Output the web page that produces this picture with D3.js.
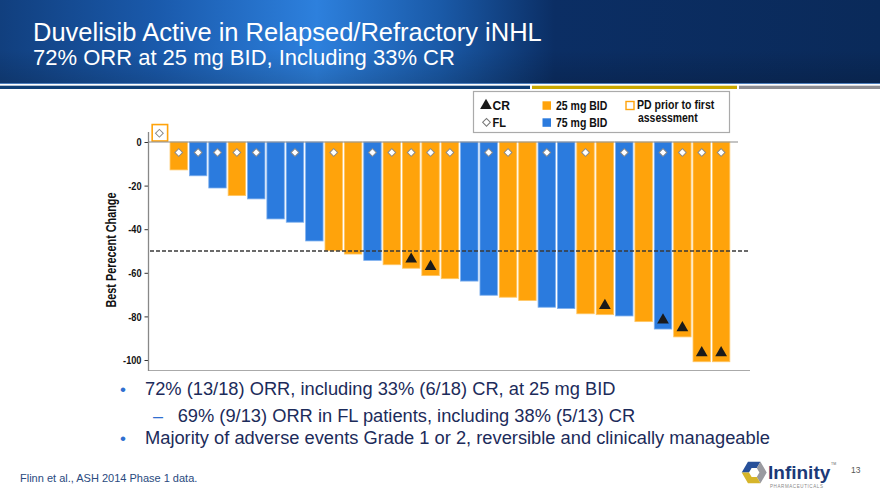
<!DOCTYPE html>
<html><head><meta charset="utf-8">
<script src="https://cdn.jsdelivr.net/npm/d3@7"></script>
<style>html,body{margin:0;padding:0;background:#fff;} svg{display:block;}</style>
</head><body><svg id="c" width="880" height="491"></svg>
<script>
// ---------- DATA ----------
const patients = [1,2,3,4,5,6,7,8,9,10,11,12,13,14,15,16,17,18,19,20,21,22,23,24,25,26,27,28,29,30];
const bestChange = [8, -12.8, -15.5, -21.1, -24.6, -26.1, -35.3, -36.8, -45.4, -49.9,
  -51.4, -54.3, -56.3, -57.9, -61.3, -62.7, -63.8, -70.3, -71.2, -72.7,
  -75.8, -76.4, -78.8, -79.2, -79.8, -82.4, -85.8, -89.4, -100.8, -100.8];
const doseGroup = ["25","25","75","75","25","75","75","75","75","25",
  "25","75","25","25","25","25","75","75","25","25",
  "75","75","25","25","75","25","75","25","25","25"];
const isFL = [1,1,1,1,1,1,0,1,0,1, 0,1,1,1,1,1,0,1,1,0, 1,0,1,0,1,0,1,1,1,1];
const isCR = [0,0,0,0,0,0,0,0,0,0, 0,0,0,1,1,0,0,0,0,0, 0,0,0,1,0,0,1,1,1,1];
const isPD = [1,0,0,0,0,0,0,0,0,0, 0,0,0,0,0,0,0,0,0,0, 0,0,0,0,0,0,0,0,0,0];
const yTicks = [0, -20, -40, -60, -80, -100];
const threshold = -50;
const yTitle = "Best Perecent Change";
const titleText = "Duvelisib Active in Relapsed/Refractory iNHL";
const subtitleText = "72% ORR at 25 mg BID, Including 33% CR";
const bulletLines = [
  {level:1, text:"72% (13/18) ORR, including 33% (6/18) CR, at 25 mg BID"},
  {level:2, text:"69% (9/13) ORR in FL patients, including 38% (5/13) CR"},
  {level:1, text:"Majority of adverse events Grade 1 or 2, reversible and clinically manageable"}
];
const footnote = "Flinn et al., ASH 2014 Phase 1 data.";
const pageNumber = "13";

const colors = {"25":"#FFA30B", "75":"#2B7BDE"};
const lightEdge = {"25":"#FFC766", "75":"#7FB0EE"};

const svg = d3.select("#c");
const defs = svg.append("defs");
const bodyFont = "'Liberation Sans', Arial, sans-serif";
const condense = (sel, f) => sel.each(function(){
  const w = this.getComputedTextLength();
  d3.select(this).attr("textLength", w*f).attr("lengthAdjust","spacingAndGlyphs");
});

// ---------- HEADER ----------
const hg = defs.append("linearGradient").attr("id","hg").attr("x1",0).attr("x2",1).attr("y1",0).attr("y2",0);
[[0,"#113f7e"],[0.18,"#1a5aac"],[0.36,"#2d80dd"],[0.5,"#1a5aa8"],[0.63,"#0b2e64"],[1,"#0a2a5a"]]
  .forEach(([o,c])=>hg.append("stop").attr("offset",o).attr("stop-color",c));
svg.append("rect").attr("x",0).attr("y",0).attr("width",880).attr("height",83.5).attr("fill","url(#hg)");
const vg = defs.append("linearGradient").attr("id","vg").attr("x1",0).attr("x2",0).attr("y1",0).attr("y2",1);
vg.append("stop").attr("offset",0).attr("stop-color","#000").attr("stop-opacity",0);
vg.append("stop").attr("offset",0.6).attr("stop-color","#000").attr("stop-opacity",0.0);
vg.append("stop").attr("offset",1).attr("stop-color","#000").attr("stop-opacity",0.15);
svg.append("rect").attr("x",0).attr("y",0).attr("width",880).attr("height",83.5).attr("fill","url(#vg)");
svg.append("rect").attr("x",0).attr("y",83).attr("width",880).attr("height",1).attr("fill","#4d7fbd");
svg.append("rect").attr("x",0).attr("y",85.7).attr("width",530).attr("height",3.3).attr("fill","#0f3f75");
svg.append("rect").attr("x",532).attr("y",85.7).attr("width",205).attr("height",3.3).attr("fill","#C9A800");
svg.append("rect").attr("x",739).attr("y",85.7).attr("width",141).attr("height",3.3).attr("fill","#8d8d92");

svg.append("text").attr("x",33).attr("y",41).attr("fill","#fff")
  .style("font-family",bodyFont).style("font-size","25.5px").text(titleText);
svg.append("text").attr("x",33).attr("y",65).attr("fill","#fff")
  .style("font-family",bodyFont).style("font-size","22px").text(subtitleText);

// ---------- CHART ----------
const x = d3.scaleBand().domain(patients).range([149.7, 730.8]).paddingInner(0.1).paddingOuter(0.05);
const y = d3.scaleLinear().domain([0, -100]).range([142, 360]);

const data = patients.map((p,i)=>({p, v:bestChange[i], dose:doseGroup[i], fl:isFL[i], cr:isCR[i], pd:isPD[i]}));

// bars
svg.append("g").selectAll("rect").data(data.filter(d=>!d.pd)).join("rect")
  .attr("x", d=>x(d.p)).attr("width", x.bandwidth())
  .attr("y", d=>y(0)).attr("height", d=>y(d.v)-y(0))
  .attr("fill", d=>colors[d.dose]).attr("stroke", d=>lightEdge[d.dose]).attr("stroke-width",0.8);

// PD box
svg.append("g").selectAll("rect").data(data.filter(d=>d.pd)).join("rect")
  .attr("x", d=>x(d.p)+1.5).attr("width", x.bandwidth()-2)
  .attr("y", d=>y(d.v)).attr("height", d=>y(0)-y(d.v)-1)
  .attr("fill","#fff").attr("stroke", d=>colors[d.dose]).attr("stroke-width",1.6);

// axes lines
svg.append("line").attr("x1",148).attr("x2",738).attr("y1",y(0)).attr("y2",y(0)).attr("stroke","#8a8a8a").attr("stroke-width",1.2);
svg.append("line").attr("x1",148).attr("x2",750).attr("y1",370.5).attr("y2",370.5).attr("stroke","#aaa").attr("stroke-width",1.2);

const yAxis = svg.append("g").attr("transform","translate(148.5,0)")
  .call(d3.axisLeft(y).tickValues(yTicks).tickSize(4).tickPadding(3).tickFormat(d=>String(d)));
yAxis.select(".domain").remove();
yAxis.selectAll(".tick line").attr("stroke","#333");
yAxis.selectAll(".tick text").attr("fill","#111")
  .style("font-family",bodyFont).style("font-weight","bold").style("font-size","11.5px");
condense(yAxis.selectAll(".tick text"), 0.8);
svg.append("line").attr("x1",148.5).attr("x2",148.5).attr("y1",132).attr("y2",371).attr("stroke","#888").attr("stroke-width",1.3);

svg.append("text").attr("transform","translate(115.5,250) rotate(-90)").attr("text-anchor","middle")
  .attr("fill","#111").style("font-family",bodyFont).style("font-weight","bold").style("font-size","14px")
  .attr("textLength",115).attr("lengthAdjust","spacingAndGlyphs").text(yTitle);

// threshold dashed line
svg.append("line").attr("x1",150).attr("x2",748).attr("y1",y(threshold)).attr("y2",y(threshold))
  .attr("stroke","#3a3a3a").attr("stroke-width",1.5).attr("stroke-dasharray","4,2");

// FL diamonds
const diamond = d3.symbol().type(d3.symbolSquare).size(30);
svg.append("g").selectAll("path").data(data.filter(d=>d.fl)).join("path")
  .attr("d", diamond)
  .attr("transform", d=>`translate(${x(d.p)+x.bandwidth()/2},${d.pd ? (y(d.v)+y(0))/2 : y(0)+10.5}) rotate(45)`)
  .attr("fill","#fff").attr("stroke","#8a8a8a").attr("stroke-width",1);

// CR triangles
const tri = d3.symbol().type(d3.symbolTriangle).size(60);
svg.append("g").selectAll("path").data(data.filter(d=>d.cr)).join("path")
  .attr("d", tri)
  .attr("transform", d=>`translate(${x(d.p)+x.bandwidth()/2},${y(d.v)-9})`)
  .attr("fill","#1a1a1a");

// ---------- LEGEND ----------
const lg = svg.append("g");
lg.append("rect").attr("x",473.5).attr("y",91.5).attr("width",256).attr("height",41).attr("fill","#fff").attr("stroke","#aaa").attr("stroke-width",1.2);
const lt = (xx,yy,t,w)=>lg.append("text").attr("x",xx).attr("y",yy).attr("fill","#111")
  .style("font-family",bodyFont).style("font-weight","bold").style("font-size","12px")
  .attr("textLength",w).attr("lengthAdjust","spacingAndGlyphs").text(t);
lg.append("path").attr("d",tri).attr("transform","translate(486,105.5)").attr("fill","#1a1a1a");
lt(492.5,109.5,"CR",17.5);
lg.append("path").attr("d",diamond).attr("transform","translate(486.5,122.3) rotate(45)").attr("fill","#fff").attr("stroke","#777").attr("stroke-width",1);
lt(492.5,126.5,"FL",13.5);
lg.append("rect").attr("x",542.5).attr("y",101.3).attr("width",8.5).attr("height",8.5).attr("fill",colors["25"]);
lt(556,109.5,"25 mg BID",51.3);
lg.append("rect").attr("x",542.5).attr("y",118.3).attr("width",8.5).attr("height",8.5).attr("fill",colors["75"]);
lt(556,126.5,"75 mg BID",51.3);
lg.append("rect").attr("x",626).attr("y",101.5).attr("width",8).attr("height",8).attr("fill","#fff").attr("stroke",colors["25"]).attr("stroke-width",1.4);
lt(637,108.5,"PD prior to first",77.3);
lt(638,122,"assessment",59.7);

// ---------- BULLETS ----------
const by = [395, 421.7, 444];
bulletLines.forEach((b,i)=>{
  if (b.level===1) {
    svg.append("text").attr("x",120).attr("y",by[i]).attr("fill","#2f6fd0")
      .style("font-family",bodyFont).style("font-size","17px").text("•");
    svg.append("text").attr("x",145).attr("y",by[i]).attr("fill","#1c2b5a")
      .style("font-family",bodyFont).style("font-size","18.3px").text(b.text);
  } else {
    svg.append("text").attr("x",153).attr("y",by[i]).attr("fill","#2f6fd0")
      .style("font-family",bodyFont).style("font-size","18px").text("–");
    svg.append("text").attr("x",177.7).attr("y",by[i]).attr("fill","#1c2b5a")
      .style("font-family",bodyFont).style("font-size","18.3px").text(b.text);
  }
});

svg.append("text").attr("x",20).attr("y",482).attr("fill","#2a4a80")
  .style("font-family",bodyFont).style("font-size","11px").text(footnote);

// ---------- LOGO ----------
const cx = 754.2, cy = 472.5, R = 12.5, r = 5.2;
const hexPt = (rad,k)=>[cx + rad*Math.cos(Math.PI/3*k), cy + rad*Math.sin(Math.PI/3*k)];
const seg = (ks,col)=>{
  const outer = ks.map(k=>hexPt(R,k)), inner = ks.slice().reverse().map(k=>hexPt(r,k));
  svg.append("path").attr("d","M"+outer.concat(inner).map(p=>p.join(",")).join("L")+"Z").attr("fill",col);
};
seg([3,4,5],"#27509a");
seg([5,0,1],"#9a9aa0");
seg([1,2,3],"#d6b52a");
svg.append("text").attr("x",768).attr("y",479).attr("fill","#1b3a78")
  .style("font-family",bodyFont).style("font-weight","bold").style("font-size","19px").text("Infinity");
svg.append("text").attr("x",770).attr("y",487.5).attr("fill","#888")
  .style("font-family",bodyFont).style("font-size","4.5px").style("letter-spacing","0.6px").text("PHARMACEUTICALS");
svg.append("text").attr("x",831).attr("y",465).attr("fill","#666")
  .style("font-family",bodyFont).style("font-size","3.5px").text("TM");
svg.append("text").attr("x",851).attr("y",473).attr("fill","#555")
  .style("font-family",bodyFont).style("font-size","8.5px").text(pageNumber);
</script></body></html>
